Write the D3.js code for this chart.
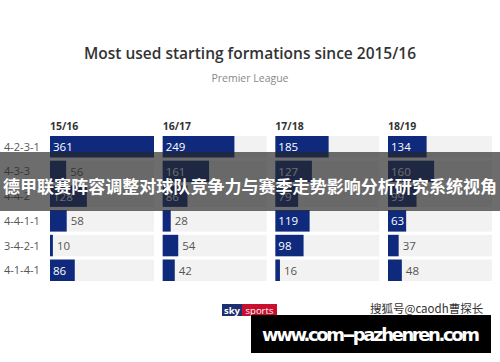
<!DOCTYPE html>
<html>
<head>
<meta charset="utf-8">
<script src="https://cdnjs.cloudflare.com/ajax/libs/d3/7.8.5/d3.min.js"></script>
<style>
  body { margin: 0; background: #fff; }
  svg { display: block; font-family: "Open Sans", "Noto Sans", sans-serif; }
</style>
</head>
<body>
<div id="chart"></div>
<script>
// formations (rows) and seasons (panels)
var formations = ["4-2-3-1", "4-3-3", "4-4-2", "4-4-1-1", "3-4-2-1", "4-1-4-1"]
var seasons = ["15/16", "16/17", "17/18", "18/19"]

// matches started in each formation, one array per season
var s1516 = [361, 56, 128, 58, 10, 86]
var s1617 = [249, 161, 86, 28, 54, 42]
var s1718 = [185, 127, 79, 119, 98, 16]
var s1819 = [134, 160, 99, 63, 37, 48]
var values = [s1516, s1617, s1718, s1819]

var W = 500, H = 362

var svg = d3.select("#chart").append("svg")
  .attr("width", W)
  .attr("height", H)

// titles
svg.append("text")
  .attr("x", 250).attr("y", 59)
  .attr("text-anchor", "middle")
  .attr("font-size", 15.5)
  .attr("font-weight", 600)
  .attr("fill", "#333")
  .attr("textLength", 332)
  .text("Most used starting formations since 2015/16")

svg.append("text")
  .attr("x", 250).attr("y", 82)
  .attr("text-anchor", "middle")
  .attr("font-size", 10.5)
  .attr("fill", "#888")
  .text("Premier League")

// scales
var panel = d3.scaleBand()
  .domain(seasons)
  .range([50, 492])
  .paddingInner(0.077)

var row = d3.scaleBand()
  .domain(formations)
  .range([136, 281])
  .paddingInner(0.13)

var x = d3.scaleLinear()
  .domain([0, 361])
  .range([0, panel.bandwidth()])

// row labels
svg.append("g").selectAll("text")
  .data(formations)
  .join("text")
  .attr("x", 4)
  .attr("y", d => row(d) + row.bandwidth() / 2 + 4)
  .attr("font-size", 11)
  .attr("fill", "#555")
  .text(d => d)

var panels = svg.append("g").selectAll("g")
  .data(seasons)
  .join("g")
  .attr("transform", d => `translate(${panel(d)},0)`)

panels.append("text")
  .attr("x", 0).attr("y", 130)
  .attr("font-size", 10.5)
  .attr("font-weight", 700)
  .attr("fill", "#333")
  .text(d => d)

panels.each(function (season, si) {
  var g = d3.select(this)
  var data = formations.map((f, i) => ({ f: f, v: values[si][i] }))

  g.selectAll("rect.bg")
    .data(data)
    .join("rect")
    .attr("class", "bg")
    .attr("x", 0)
    .attr("y", d => row(d.f))
    .attr("width", panel.bandwidth())
    .attr("height", row.bandwidth())
    .attr("fill", "#f2f2f2")

  g.selectAll("rect.bar")
    .data(data)
    .join("rect")
    .attr("class", "bar")
    .attr("x", 0)
    .attr("y", d => row(d.f))
    .attr("width", d => x(d.v))
    .attr("height", row.bandwidth())
    .attr("fill", "#0f2a7c")

  g.selectAll("text.val")
    .data(data)
    .join("text")
    .attr("class", "val")
    .attr("x", d => d.v >= 60 ? 3 : x(d.v) + 4)
    .attr("y", d => row(d.f) + row.bandwidth() / 2 + 4.5)
    .attr("font-size", 11.5)
    .attr("fill", d => d.v >= 60 ? "#fff" : "#555")
    .text(d => d.v)
})

// sky sports logo
var logo = svg.append("g").attr("transform", "translate(222,304)")
logo.append("rect").attr("width", 20).attr("height", 12).attr("fill", "#1d2f6e")
logo.append("rect").attr("x", 20).attr("width", 35).attr("height", 12).attr("fill", "#c8102e")
logo.append("text").attr("x", 10).attr("y", 9.5).attr("text-anchor", "middle")
  .attr("font-size", 9.5).attr("font-weight", 700).attr("fill", "#fff").text("sky")
logo.append("text").attr("x", 37.5).attr("y", 9.5).attr("text-anchor", "middle")
  .attr("font-size", 9.5).attr("fill", "#fff").text("sports")

svg.append("text")
  .attr("x", 370).attr("y", 313)
  .attr("font-size", 11.5)
  .attr("fill", "#333")
  .attr("font-family", "Noto Sans CJK SC, sans-serif")
  .text("搜狐号@caodh曹探长")

// overlay banner
svg.append("rect")
  .attr("x", 0).attr("y", 152)
  .attr("width", W).attr("height", 59)
  .attr("fill", "rgba(40,40,40,0.68)")

svg.append("text")
  .attr("x", 250).attr("y", 193)
  .attr("text-anchor", "middle")
  .attr("font-size", 17)
  .attr("font-weight", 700)
  .attr("fill", "#fff")
  .attr("font-family", "Noto Sans CJK SC, sans-serif")
  .attr("textLength", 494)
  .text("德甲联赛阵容调整对球队竞争力与赛季走势影响分析研究系统视角")

// url box
svg.append("rect")
  .attr("x", 251).attr("y", 315)
  .attr("width", 240).attr("height", 38)
  .attr("fill", "#000")

svg.append("text")
  .attr("x", 371).attr("y", 341)
  .attr("text-anchor", "middle")
  .attr("font-size", 18)
  .attr("font-weight", 700)
  .attr("fill", "#fff")
  .attr("font-family", "DejaVu Sans, sans-serif")
  .attr("textLength", 218)
  .text("www.com--pazhenren.com")
</script>
</body>
</html>
